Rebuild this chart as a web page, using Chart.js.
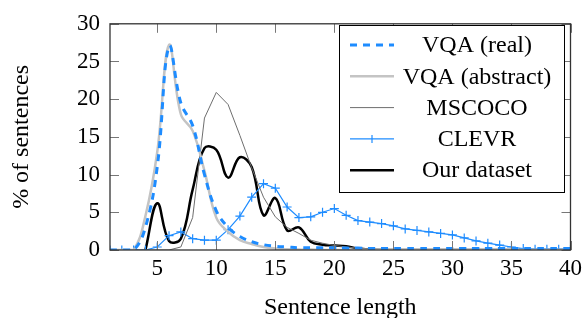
<!DOCTYPE html>
<html>
<head>
<meta charset="utf-8">
<script src="https://cdn.jsdelivr.net/npm/chart.js@4.4.1/dist/chart.umd.min.js"></script>
<style>
  html, body { margin: 0; padding: 0; background: #fff; }
  #wrap { width: 587px; height: 318px; }
</style>
</head>
<body>
<div id="wrap"><canvas id="grafico" width="587" height="318"></canvas></div>
<script>
// sentence length (x) for every series
const comprimentos = [1, 2, 3, 4, 5, 6, 7, 8, 9, 10, 11, 12, 13, 14, 15, 16, 17, 18, 19, 20,
    21, 22, 23, 24, 25, 26, 27, 28, 29, 30, 31, 32, 33, 34, 35, 36, 37, 38, 39, 40];

const vqaReal = [0, 0, 0, 3, 11, 27, 19.5, 16.5, 10, 5.2, 3, 1.8, 1.1, 0.7, 0.5, 0.4, 0.3, 0.3, 0.3, 0.3,
    0.25, 0.25, 0.2, 0.2, 0.2, 0.2, 0.2, 0.2, 0.2, 0.2, 0.2, 0.2, 0.2, 0.2, 0.2, 0.2, 0.2, 0.2, 0.2, 0.2];
const vqaAbstract = [0, 0, 0, 4.5, 13, 27.2, 18, 15.8, 10.5, 4.3, 2.4, 1.3, 0.8, 0.4, 0.2, 0.1, 0.05, 0.05, 0, 0,
    0, 0, 0, 0, 0, 0, 0, 0, 0, 0, 0, 0, 0, 0, 0, 0, 0, 0, 0, 0];
const mscoco = [0, 0, 0, 0, 0, 0, 0.4, 4.3, 17.5, 20.9, 19.3, 15.2, 10.9, 7.0, 4.4, 3.0, 2.2, 1.3, 0.9, 0.6,
    0.4, 0.25, 0.15, 0.1, 0.05, 0, 0, 0, 0, 0, 0, 0, 0, 0, 0, 0, 0, 0, 0, 0];
const clevr = [0, 0, 0, 0, 0.4, 1.9, 2.4, 1.5, 1.3, 1.3, 2.7, 4.5, 7.0, 8.8, 8.2, 5.7, 4.3, 4.4, 5.0, 5.5,
    4.6, 3.9, 3.7, 3.5, 3.2, 2.8, 2.6, 2.4, 2.2, 2.0, 1.6, 1.2, 0.9, 0.65, 0.4, 0.2, 0.1, 0.1, 0.1, 0.1];
const nossoDataset = [null, null, null, 0, 6.2, 1.2, 1.5, 8, 13.5, 13.3, 9.6, 12.3, 11, 4.6, 6.9, 2.6, 3.0, 1.1, 0.7, 0.6,
    0.5, 0.2, 0.05, 0, 0, 0, 0, 0, 0, 0, 0, 0, 0, 0, 0, 0, 0, 0, 0, 0];

const nomes = ['VQA (real)', 'VQA (abstract)', 'MSCOCO', 'CLEVR', 'Our dataset'];
const ticksX = [5, 10, 15, 20, 25, 30, 35, 40];
const ticksY = [0, 5, 10, 15, 20, 25, 30];

const azul = '#1e8cff';
const fonte = 'Liberation Serif, Times New Roman, serif';

function pontos(valores) {
    const lista = [];
    for (let i = 0; i < comprimentos.length; i++) {
        if (valores[i] !== null) lista.push({ x: comprimentos[i], y: valores[i] });
    }
    return lista;
}

// pgfplots-like frame with ticks pointing inwards
const moldura = {
    id: 'moldura',
    afterDatasetsDraw(chart) {
        const ctx = chart.ctx;
        const a = chart.chartArea;
        const sx = chart.scales.x, sy = chart.scales.y;
        const t = 9;
        ctx.save();
        ctx.strokeStyle = '#777';
        ctx.lineWidth = 1;
        ctx.beginPath();
        ticksX.forEach(function (v) {
            const px = Math.round(sx.getPixelForValue(v)) + 0.5;
            ctx.moveTo(px, a.bottom); ctx.lineTo(px, a.bottom - t);
            ctx.moveTo(px, a.top); ctx.lineTo(px, a.top + t);
        });
        ticksY.forEach(function (v) {
            const py = Math.round(sy.getPixelForValue(v)) + 0.5;
            ctx.moveTo(a.left, py); ctx.lineTo(a.left + t, py);
            ctx.moveTo(a.right, py); ctx.lineTo(a.right - t, py);
        });
        ctx.stroke();
        ctx.strokeStyle = '#333';
        ctx.lineWidth = 1.3;
        ctx.strokeRect(a.left, a.top, a.right - a.left, a.bottom - a.top);
        ctx.restore();
    }
};

// legend box inside the plot, like the original figure
const legenda = {
    id: 'legenda',
    afterDraw(chart) {
        const ctx = chart.ctx;
        const x0 = 339, y0 = 25, x1 = 564, y1 = 192;
        ctx.save();
        ctx.fillStyle = '#fff';
        ctx.fillRect(x0, y0, x1 - x0, y1 - y0);
        ctx.strokeStyle = '#000';
        ctx.lineWidth = 1;
        ctx.strokeRect(x0 + 0.5, y0 + 0.5, x1 - x0, y1 - y0);
        chart.data.datasets.forEach(function (ds, i) {
            const y = 45 + i * 31.3;
            ctx.strokeStyle = ds.borderColor;
            ctx.lineWidth = ds.borderWidth;
            ctx.setLineDash(ds.borderDash || []);
            ctx.beginPath();
            ctx.moveTo(350, y);
            ctx.lineTo(394, y);
            ctx.stroke();
            ctx.setLineDash([]);
            if (ds.pointStyle === 'cross') {
                ctx.beginPath();
                ctx.moveTo(372, y - 4); ctx.lineTo(372, y + 4);
                ctx.stroke();
            }
            ctx.fillStyle = '#000';
            ctx.font = '24px ' + fonte;
            ctx.textAlign = 'center';
            ctx.textBaseline = 'middle';
            ctx.fillText(ds.label, 477, y + 1);
        });
        ctx.restore();
    }
};

const config = {
    type: 'line',
    data: {
        datasets: [{
            label: nomes[0],
            data: pontos(vqaReal),
            borderColor: azul,
            borderWidth: 3,
            borderDash: [7, 6],
            pointRadius: 0,
            tension: 0.4
        }, {
            label: nomes[1],
            data: pontos(vqaAbstract),
            borderColor: '#c4c4c4',
            borderWidth: 2.5,
            pointRadius: 0,
            tension: 0.4
        }, {
            label: nomes[2],
            data: pontos(mscoco),
            borderColor: '#6e6e6e',
            borderWidth: 1,
            pointRadius: 0,
            tension: 0
        }, {
            label: nomes[3],
            data: pontos(clevr),
            borderColor: azul,
            backgroundColor: azul,
            borderWidth: 1.2,
            pointStyle: 'cross',
            pointRadius: 4.5,
            pointBorderWidth: 1.2,
            tension: 0
        }, {
            label: nomes[4],
            data: pontos(nossoDataset),
            borderColor: '#000',
            borderWidth: 2.5,
            pointRadius: 0,
            tension: 0.4
        }]
    },
    options: {
        responsive: false,
        animation: false,
        devicePixelRatio: 1,
        layout: { padding: { left: 0, right: 14, top: 20, bottom: 0 } },
        plugins: { legend: { display: false }, tooltip: { enabled: false } },
        scales: {
            x: {
                type: 'linear',
                min: 1,
                max: 40,
                afterBuildTicks: function (scale) {
                    scale.ticks = ticksX.map(function (v) { return { value: v }; });
                },
                afterFit: function (scale) { scale.height = 68; },
                grid: { display: false, drawTicks: false },
                border: { display: false },
                ticks: { color: '#000', font: { family: fonte, size: 23 }, padding: 5, maxRotation: 0 },
                title: {
                    display: true,
                    text: 'Sentence length',
                    color: '#000',
                    font: { family: fonte, size: 24, lineHeight: 1 },
                    padding: { top: 0, bottom: -2 }
                }
            },
            y: {
                min: 0,
                max: 30,
                afterBuildTicks: function (scale) {
                    scale.ticks = ticksY.map(function (v) { return { value: v }; });
                },
                afterFit: function (scale) { scale.width = 110; },
                grid: { display: false, drawTicks: false },
                border: { display: false },
                ticks: { color: '#000', font: { family: fonte, size: 23 }, padding: 10 },
                title: {
                    display: true,
                    text: '% of sentences',
                    color: '#000',
                    font: { family: fonte, size: 24 },
                    padding: { top: 7, bottom: 0 }
                }
            }
        }
    },
    plugins: [moldura, legenda]
};

const ctx = document.getElementById('grafico').getContext('2d');
let grafico = new Chart(ctx, config);
</script>
</body>
</html>
